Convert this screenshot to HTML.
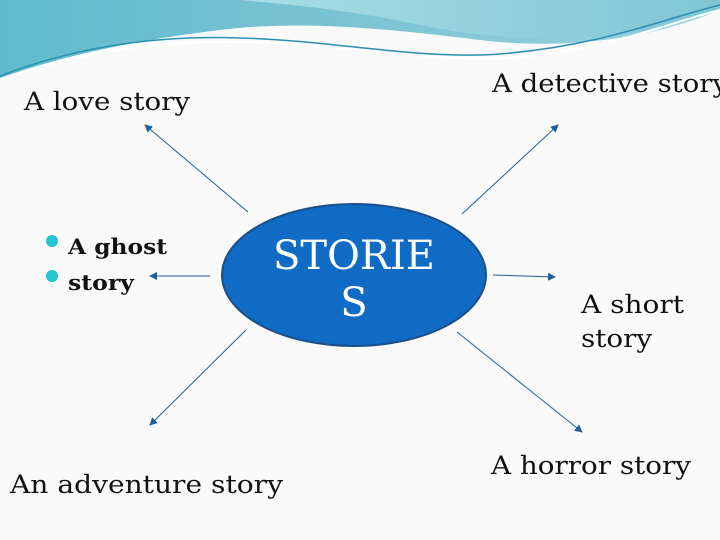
<!DOCTYPE html><html><head><style>body{margin:0;width:720px;height:540px;overflow:hidden;background:#fafafa;font-family:"DejaVu Serif","Liberation Serif",serif}</style></head><body>
<svg width="720" height="540" viewBox="0 0 720 540" xmlns="http://www.w3.org/2000/svg" style="position:absolute;left:0;top:0">
<defs><linearGradient id="g1" x1="0" y1="0" x2="1" y2="0"><stop offset="0" stop-color="#5fbcce"/><stop offset="0.5" stop-color="#7cc3d3"/><stop offset="1" stop-color="#9ad4df"/></linearGradient>
<linearGradient id="g2" x1="0" y1="0" x2="1" y2="0"><stop offset="0" stop-color="#a8dde6"/><stop offset="1" stop-color="#7fc6d6"/></linearGradient>
<marker id="a" markerWidth="8" markerHeight="8" refX="7" refY="4" orient="auto" markerUnits="userSpaceOnUse"><path d="M0,0 L8,4 L0,8 Z" fill="#1f5f9a"/></marker></defs>
<path d="M0,0 H720 V10 C650,40 560,50 480,40 C380,28 300,20 220,30 C120,42 50,60 0,78 Z" fill="url(#g1)"/>
<path d="M240,0 H720 V8 C640,45 520,45 420,25 C360,12 300,5 240,0 Z" fill="url(#g2)"/>
<path d="M0,76 C80,45 160,35 240,38 C330,40 420,60 500,54 C600,46 660,20 720,5" fill="none" stroke="#2a8fb0" stroke-width="1.5"/>
<path d="M0,80 C90,48 170,40 250,42 C340,44 420,62 510,58 C610,50 670,22 720,10" fill="none" stroke="#fff" stroke-width="2"/>
<g stroke="#1f5f9a" stroke-width="1" marker-end="url(#a)">
<line x1="248" y1="212" x2="145" y2="125"/>
<line x1="462" y1="214" x2="558" y2="125"/>
<line x1="210" y1="276" x2="150" y2="276"/>
<line x1="493" y1="275" x2="555" y2="277"/>
<line x1="246" y1="330" x2="150" y2="425"/>
<line x1="457" y1="332" x2="582" y2="432"/>
</g>
<ellipse cx="354" cy="275" rx="132" ry="71" fill="#0f6bc4" stroke="#1b4f8a" stroke-width="2"/>
<text x="354" y="269" font-size="40" fill="#fff" text-anchor="middle" font-family="DejaVu Serif">STORIE</text>
<text x="354" y="316" font-size="40" fill="#fff" text-anchor="middle" font-family="DejaVu Serif">S</text>
<g font-size="25" fill="#111" font-family="DejaVu Serif" lengthAdjust="spacingAndGlyphs">
<text x="24" y="110" textLength="166" lengthAdjust="spacingAndGlyphs">A love story</text>
<text x="492" y="92" textLength="236" lengthAdjust="spacingAndGlyphs">A detective story</text>
<text x="581" y="313" textLength="103" lengthAdjust="spacingAndGlyphs">A short</text>
<text x="581" y="347" textLength="71" lengthAdjust="spacingAndGlyphs">story</text>
<text x="491" y="474" textLength="200" lengthAdjust="spacingAndGlyphs">A horror story</text>
<text x="10" y="493" textLength="273" lengthAdjust="spacingAndGlyphs">An adventure story</text>
</g>
<circle cx="52" cy="241" r="6" fill="#22c5d0"/><circle cx="52" cy="276" r="6" fill="#22c5d0"/>
<g font-size="21" fill="#111" font-family="DejaVu Serif" font-weight="600">
<text x="68" y="254" textLength="99" lengthAdjust="spacingAndGlyphs">A ghost</text><text x="68" y="290" textLength="66" lengthAdjust="spacingAndGlyphs">story</text></g>
</svg></body></html>
